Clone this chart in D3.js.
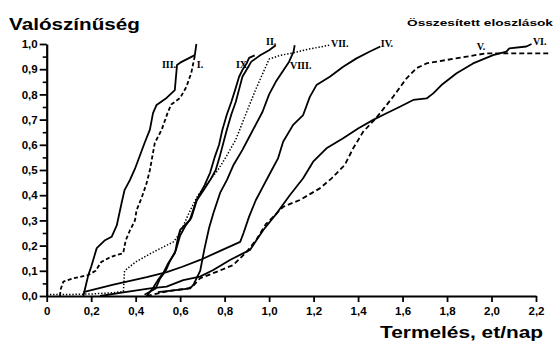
<!DOCTYPE html>
<html><head><meta charset="utf-8">
<script src="https://cdn.jsdelivr.net/npm/d3@7"></script>
<style>html,body{margin:0;padding:0;background:#fff;}svg{display:block;}</style>
</head><body>
<svg id="c" width="555" height="343"></svg>
<script>
// ---- data (x = termelés et/nap, y = valószínűség) ----
const xTicks = [0,0.2,0.4,0.6,0.8,1.0,1.2,1.4,1.6,1.8,2.0,2.2];
const yTicks = [0,0.1,0.2,0.3,0.4,0.5,0.6,0.7,0.8,0.9,1.0];
const yMinor = [0.05,0.15,0.25,0.35,0.45,0.55,0.65,0.75,0.85,0.95];

const serI = [[0.06,0.0],[0.062,0.025],[0.075,0.057],[0.12,0.07],[0.187,0.083],[0.22,0.1],[0.245,0.135],[0.29,0.156],[0.344,0.17],[0.355,0.22],[0.374,0.26],[0.397,0.3],[0.404,0.34],[0.427,0.39],[0.449,0.447],[0.464,0.5],[0.486,0.607],[0.517,0.66],[0.545,0.73],[0.56,0.76],[0.6,0.786],[0.628,0.83],[0.65,0.885],[0.662,0.937],[0.668,0.96]];
const serII = [[0.44,0.005],[0.49,0.03],[0.51,0.07],[0.535,0.1],[0.555,0.14],[0.58,0.18],[0.6,0.24],[0.625,0.28],[0.65,0.31],[0.675,0.38],[0.705,0.42],[0.735,0.46],[0.76,0.5],[0.78,0.56],[0.795,0.61],[0.81,0.66],[0.83,0.72],[0.85,0.77],[0.865,0.82],[0.88,0.87],[0.9,0.9],[0.92,0.93],[0.96,0.955],[1.0,0.975],[1.03,0.995]];
const serIII = [[0.165,0.0],[0.17,0.02],[0.187,0.083],[0.2,0.116],[0.225,0.19],[0.26,0.22],[0.292,0.235],[0.315,0.28],[0.337,0.37],[0.35,0.42],[0.374,0.46],[0.397,0.505],[0.44,0.607],[0.464,0.66],[0.478,0.726],[0.494,0.758],[0.539,0.786],[0.576,0.817],[0.586,0.917],[0.6,0.926],[0.666,0.956],[0.673,1.0]];
const serIV = [[0.165,0.015],[0.3,0.045],[0.45,0.075],[0.54,0.095],[0.61,0.116],[0.69,0.143],[0.79,0.183],[0.87,0.215],[0.885,0.25],[0.91,0.315],[0.94,0.38],[0.97,0.43],[1.0,0.48],[1.04,0.546],[1.063,0.612],[1.108,0.679],[1.153,0.718],[1.183,0.79],[1.213,0.837],[1.273,0.87],[1.333,0.91],[1.393,0.943],[1.453,0.97],[1.5,0.99]];
const serV = [[0.45,0.0],[0.55,0.02],[0.636,0.03],[0.659,0.04],[0.689,0.07],[0.764,0.096],[0.839,0.123],[0.9,0.176],[0.944,0.225],[0.985,0.285],[1.02,0.315],[1.063,0.354],[1.138,0.381],[1.228,0.427],[1.281,0.467],[1.34,0.52],[1.378,0.586],[1.423,0.652],[1.48,0.705],[1.557,0.79],[1.618,0.864],[1.663,0.904],[1.708,0.923],[1.8,0.937],[1.888,0.95],[1.977,0.963],[2.26,0.963]];
const serVI = [[0.24,0.0],[0.352,0.015],[0.465,0.03],[0.539,0.037],[0.614,0.063],[0.689,0.077],[0.749,0.103],[0.824,0.143],[0.914,0.183],[0.974,0.262],[1.034,0.328],[1.093,0.4],[1.153,0.467],[1.198,0.533],[1.258,0.586],[1.333,0.626],[1.4,0.665],[1.47,0.7],[1.528,0.725],[1.588,0.751],[1.648,0.778],[1.708,0.784],[1.738,0.804],[1.775,0.837],[1.843,0.884],[1.917,0.923],[2.007,0.956],[2.067,0.97],[2.08,0.983],[2.157,0.99],[2.18,1.0]];
const serVII = [[0.0,0.006],[0.1,0.006],[0.2,0.008],[0.3,0.013],[0.345,0.018],[0.35,0.1],[0.4,0.135],[0.47,0.17],[0.57,0.215],[0.6,0.25],[0.64,0.33],[0.68,0.4],[0.725,0.45],[0.77,0.5],[0.805,0.55],[0.85,0.62],[0.89,0.71],[0.94,0.82],[0.98,0.9],[1.0,0.94],[1.05,0.955],[1.11,0.965],[1.18,0.98],[1.27,0.995]];
const serVIII = [[0.5,0.015],[0.6,0.025],[0.645,0.03],[0.66,0.045],[0.69,0.1],[0.71,0.19],[0.73,0.27],[0.75,0.33],[0.78,0.41],[0.81,0.46],[0.84,0.52],[0.88,0.58],[0.91,0.63],[0.94,0.68],[0.97,0.73],[1.0,0.8],[1.03,0.85],[1.06,0.89],[1.09,0.93],[1.1,0.95],[1.11,0.97],[1.115,0.995]];
const serIX = [[0.45,0.0],[0.48,0.035],[0.5,0.063],[0.524,0.091],[0.547,0.131],[0.577,0.171],[0.59,0.23],[0.6,0.262],[0.644,0.302],[0.674,0.381],[0.71,0.44],[0.735,0.49],[0.755,0.55],[0.775,0.6],[0.79,0.66],[0.81,0.72],[0.83,0.77],[0.848,0.82],[0.865,0.87],[0.882,0.9],[0.9,0.925],[0.91,0.945],[0.935,0.955]];

const seriesNames = ["I.","II.","III.","IV.","V.","VI.","VII.","VIII.","IX."];
const seriesData = [serI, serII, serIII, serIV, serV, serVI, serVII, serVIII, serIX];
const seriesDash = ["4,2.5", null, null, null, "5,3", null, "1.4,1.8", null, null];
// label anchor (data coords)
const labelX = [0.675, 0.986, 0.518, 1.502, 1.934, 2.186, 1.278, 1.094, 0.851];
const labelY = [0.905, 0.996, 0.905, 0.988, 0.976, 0.996, 0.988, 0.901, 0.905];

// ---- drawing ----
const svg = d3.select("#c");
const x = d3.scaleLinear().domain([0, 2.2]).range([46.7, 536]);
const y = d3.scaleLinear().domain([0, 1]).range([296, 44]);
const fmt = d => d3.format(".1f")(d).replace(".", ",");

// minor y ticks
svg.append("g").attr("transform", "translate(46.7,0)")
  .call(d3.axisLeft(y).tickValues(yMinor).tickSize(4).tickFormat(""))
  .call(g => g.select(".domain").remove())
  .call(g => g.selectAll("line").attr("stroke", "#000").attr("stroke-width", 1.6));

const yAx = svg.append("g").attr("transform", "translate(46.7,0)")
  .call(d3.axisLeft(y).tickValues(yTicks).tickSize(7).tickSizeOuter(0).tickPadding(2).tickFormat(fmt));
const xAx = svg.append("g").attr("transform", "translate(0,296)")
  .call(d3.axisBottom(x).tickValues(xTicks).tickSize(6).tickSizeOuter(0).tickPadding(5)
    .tickFormat(d => d === 0 ? "0" : fmt(d)));
[yAx, xAx].forEach(g => {
  g.select(".domain").attr("stroke", "#000").attr("stroke-width", 2.2);
  g.selectAll("line").attr("stroke", "#000").attr("stroke-width", 1.8);
  g.selectAll("text").attr("fill", "#000").attr("font-family", "Liberation Sans, Arial, sans-serif")
    .attr("font-weight", "bold").attr("font-size", 11.5);
});

// curves
const line = d3.line().x(d => x(d[0])).y(d => y(d[1]));
seriesData.forEach((s, i) => {
  svg.append("path").datum(s).attr("d", line)
    .attr("fill", "none").attr("stroke", "#000")
    .attr("stroke-width", seriesDash[i] === "1.4,1.8" ? 1.5 : 1.8)
    .attr("stroke-linejoin", "round")
    .attr("stroke-dasharray", seriesDash[i]);
});

// curve labels
seriesNames.forEach((n, i) => {
  svg.append("text").attr("x", x(labelX[i])).attr("y", y(labelY[i]))
    .attr("font-family", "Liberation Serif, Times New Roman, serif").attr("font-weight", "bold")
    .attr("font-size", 10).attr("fill", "#000").text(n);
});

// titles
svg.append("text").attr("x", 9).attr("y", 30)
  .attr("font-family", "Liberation Sans, Arial, sans-serif").attr("font-weight", "bold")
  .attr("font-size", 17).attr("textLength", 131).attr("lengthAdjust", "spacingAndGlyphs")
  .text("Valószínűség");
svg.append("text").attr("x", 407).attr("y", 26)
  .attr("font-family", "Liberation Sans, Arial, sans-serif").attr("font-weight", "bold")
  .attr("font-size", 9.5).attr("textLength", 146).attr("lengthAdjust", "spacingAndGlyphs")
  .text("Összesített eloszlások");
svg.append("text").attr("x", 380).attr("y", 338)
  .attr("font-family", "Liberation Sans, Arial, sans-serif").attr("font-weight", "bold")
  .attr("font-size", 16).attr("textLength", 163).attr("lengthAdjust", "spacingAndGlyphs")
  .text("Termelés, et/nap");
</script>
</body></html>
